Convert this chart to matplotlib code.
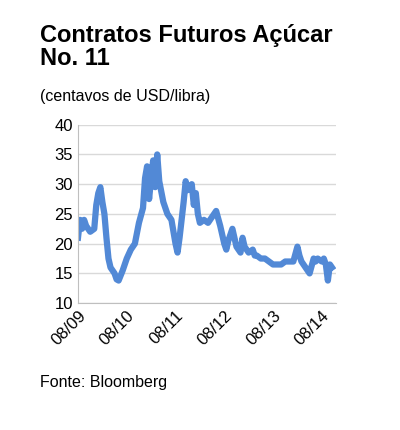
import matplotlib.pyplot as plt

plt.rcParams['font.family'] = ['Liberation Sans', 'DejaVu Sans']

# meses desde 08/2009 e preço (centavos de USD/libra)
meses = [0, 0.5, 1, 1.5, 2, 3, 4, 4.5, 5, 5.5, 6, 6.5, 7, 7.5, 8, 9, 9.5, 10, 11, 12, 13, 14,
         15, 16, 16.5, 17, 17.5, 18, 18.5, 19, 19.5, 20, 21, 22, 23, 24, 24.5, 25, 26, 26.5, 27, 28, 28.5,
         29, 29.5, 30, 31, 32, 33, 34, 35, 36, 36.5, 37, 38, 39, 40, 40.5, 41, 42, 43, 43.5,
         44, 45, 46, 47, 48, 49, 50, 51, 52, 53, 54, 54.5, 55, 56, 57, 58, 58.5, 59, 60, 60.5, 61, 61.5, 62, 62.5]
precos = [21.0, 24.0, 22.5, 24.0, 23.0, 22.0, 22.5, 26.5, 28.5, 29.5, 27.0, 25.0, 21.0, 17.5, 16.0, 15.0, 14.0, 13.8, 15.5, 17.5, 19.0, 20.0,
          23.5, 26.0, 31.0, 33.0, 27.5, 31.0, 34.0, 29.5, 35.0, 30.5, 27.0, 25.0, 24.0, 20.0, 18.5, 21.0, 27.0, 30.5, 29.0, 30.0, 26.5,
          28.5, 25.0, 23.5, 24.0, 23.5, 24.5, 25.5, 23.0, 20.0, 19.0, 20.5, 22.5, 19.5, 18.5, 21.0, 19.5, 18.5, 19.0, 18.0,
          18.0, 17.5, 17.5, 17.0, 16.5, 16.5, 16.5, 17.0, 17.0, 17.0, 19.5, 18.0, 17.0, 16.0, 15.0, 17.5, 17.0, 17.5, 17.0, 17.5, 16.5, 13.8, 16.5, 16.0]
ticks_x = [0, 12, 24, 36, 48, 60]
rotulos_x = ['08/09', '08/10', '08/11', '08/12', '08/13', '08/14']

fig = plt.figure(figsize=(4, 4.3), dpi=100)
ax = fig.add_axes([0.195, 0.295, 0.645, 0.415])

ax.plot(meses, precos, color='#5289d6', linewidth=4.5, solid_joinstyle='round')
ax.set_xlim(0, 63.5)
ax.set_ylim(10, 40)
ax.set_yticks(range(10, 41, 5))
ax.set_xticks(ticks_x)
ax.set_xticklabels(rotulos_x, rotation=45, ha='right', rotation_mode='anchor')
ax.tick_params(length=0, labelsize=12)
ax.grid(axis='y', color='#d9d9d9', linewidth=1)
ax.set_axisbelow(True)
for s in ['top', 'right']:
    ax.spines[s].set_visible(False)
ax.spines['left'].set_color('#bfbfbf')
ax.spines['bottom'].set_color('#bfbfbf')

fig.text(0.1, 0.945, 'Contratos Futuros Açúcar\nNo. 11', fontsize=17, fontweight='bold',
         va='top', linespacing=1.0)
fig.text(0.1, 0.765, '(centavos de USD/libra)', fontsize=11.5)
fig.text(0.1, 0.1, 'Fonte: Bloomberg', fontsize=11.5)

fig.savefig('out.png', dpi=100)
